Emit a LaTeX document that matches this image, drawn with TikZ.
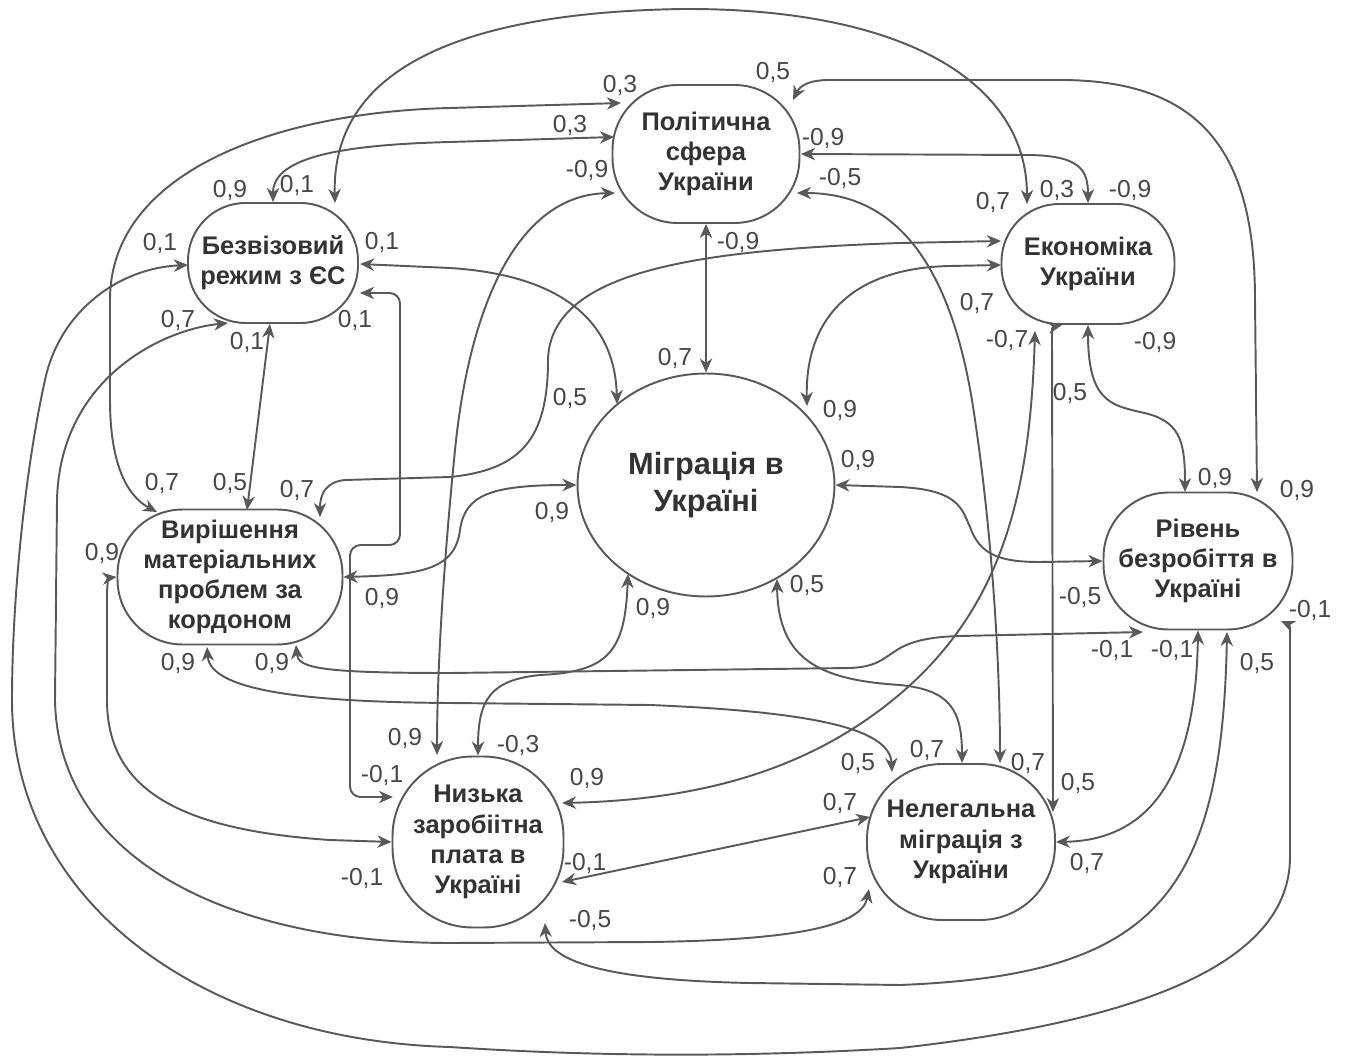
\documentclass[tikz,border=0pt]{standalone}
\usepackage{fontspec}
\setmainfont{Liberation Sans}
\usepackage{xcolor}
\usepackage{tikz}
\usetikzlibrary{shapes.geometric,arrows.meta}

\definecolor{edgegray}{HTML}{595959}
\definecolor{txtgray}{HTML}{333333}
\definecolor{lblgray}{HTML}{474747}

\begin{document}
\begin{tikzpicture}[x=0.02cm, y=-0.02cm,
    factor/.style={rectangle, draw=edgegray, line width=1.1pt, fill=white, align=center, text=txtgray, font=\bfseries\fontsize{14.5}{17.2}\selectfont, inner sep=1pt},
    core/.style={ellipse, draw=edgegray, line width=1.1pt, fill=white, align=center, text=txtgray, font=\bfseries\fontsize{17.5}{21}\selectfont, minimum width=5.14cm, minimum height=4.46cm},
    wt/.style={font=\fontsize{14}{16}\selectfont, text=lblgray, inner sep=0pt},
    link/.style={draw=edgegray, line width=1.1pt, {Stealth[length=8pt,width=7pt,inset=2.5pt]}-{Stealth[length=8pt,width=7pt,inset=2.5pt]}}]

    \fill[white] (0,0) rectangle (1349,1060);
    \useasboundingbox (0,0) rectangle (1349,1060);

    % factors
    \node[factor, minimum width=3.4cm, minimum height=2.4cm, rounded corners=1.15cm] (B) at (273,263) {Безвізовий\\режим з ЄС};
    \node[factor, minimum width=3.74cm, minimum height=2.76cm, rounded corners=1.3cm] (P) at (706,154) {Політична\\сфера\\України};
    \node[factor, minimum width=3.46cm, minimum height=2.4cm, rounded corners=1.15cm] (E) at (1088,264) {Економіка\\України};
    \node[factor, minimum width=4.5cm, minimum height=2.7cm, rounded corners=1.3cm] (V) at (230,577) {Вирішення\\матеріальних\\проблем за\\кордоном};
    \node[core] (M) at (706,485) {Міграція в\\Україні};
    \node[factor, minimum width=3.78cm, minimum height=2.74cm, rounded corners=1.3cm] (R) at (1198,561) {Рівень\\безробіття в\\Україні};
    \node[factor, minimum width=3.42cm, minimum height=3.42cm, rounded corners=1.6cm] (N) at (478,842) {Низька\\заробіітна\\плата в\\Україні};
    \node[factor, minimum width=3.76cm, minimum height=3.12cm, rounded corners=1.5cm] (L) at (961,842) {Нелегальна\\міграція з\\України};

    % links
    \draw[link] ([shift={(62,-60)}]B.center) .. controls (331,60) and (480,12) .. (683,9) .. controls (900,8) and (1027,80) .. ([shift={(-61,-60)}]E.center);
    \draw[link] ([shift={(87,-54)}]P.center) .. controls (800,86) and (808,80) .. (830,80) -- (1060,80) .. controls (1200,80) and (1255,150) .. (1255,300) -- ([shift={(59,-69)}]R.center);
    \draw[link] ([shift={(-73,-65)}]V.center) .. controls (125,495) and (110,460) .. (110,400) -- (110,300) .. controls (110,170) and (280,112) .. (450,108) -- ([shift={(-85,-51)}]P.center);
    \draw[link] (B.north) .. controls (273,160) and (330,145) .. (450,142) -- ([shift={(-92,-17)}]P.center);
    \draw[link] ([shift={(-91,39)}]P.center) .. controls (520,195) and (470,300) .. (455,450) .. controls (442,580) and (437,680) .. ([shift={(-41,-87)}]N.center);
    \draw[link] ([shift={(95,0)}]P.center) -- (1030,155) .. controls (1080,156) and (1088,170) .. (E.north);
    \draw[link] ([shift={(91,39)}]P.center) .. controls (880,193) and (950,240) .. (975,420) .. controls (990,520) and (1000,650) .. ([shift={(39,-79)}]L.center);
    \draw[link] (P.south) -- (M.north);
    \draw[link] ([shift={(-87,-23)}]E.center) -- (900,243) .. controls (700,250) and (550,270) .. (548,360) .. controls (548,440) and (520,470) .. (450,477) -- (345,480) .. controls (325,482) and (320,495) .. ([shift={(90,-60)}]V.center);
    \draw[link] ([shift={(101,-79)}]M.center) .. controls (805,320) and (850,268) .. (950,266) -- ([shift={(-87,1)}]E.center);
    \draw[link] ([shift={(87,1)}]B.center) -- (450,268) .. controls (560,275) and (615,320) .. ([shift={(-89,-81)}]M.center);
    \draw[link] ([shift={(-3,61)}]B.center) -- ([shift={(17,-67)}]V.center);
    \draw[link, rounded corners=6] ([shift={(87,30)}]B.center) -- (400,293) -- (400,545) -- (350,545) -- (350,797) -- ([shift={(-85,-45)}]N.center);
    \draw[link] ([shift={(-85,2)}]B.center) .. controls (120,268) and (60,310) .. (45,380) .. controls (25,470) and (12,600) .. (12,700) .. controls (12,900) and (200,1040) .. (450,1047) .. controls (600,1057) and (750,1057) .. (900,1048) .. controls (1150,1020) and (1290,960) .. (1290,857) -- (1290,640) .. controls (1290,625) .. ([shift={(83,60)}]R.center);
    \draw[link] ([shift={(-45,60)}]B.center) .. controls (160,330) and (60,380) .. (57,500) -- (55,700) .. controls (58,860) and (230,943) .. (450,943) -- (650,942) .. controls (800,940) and (862,925) .. ([shift={(-92,47)}]L.center);
    \draw[link] (V.west) .. controls (108,578) .. (107,592) -- (107,700) .. controls (107,790) and (180,830) .. (330,840) -- (N.west);
    \draw[link] (V.east) .. controls (420,575) and (455,570) .. (460,530) .. controls (465,495) and (490,485) .. (M.west);
    \draw[link] ([shift={(-23,70)}]V.center) .. controls (210,690) and (300,702) .. (450,703) -- (650,705) .. controls (820,712) and (890,730) .. ([shift={(-69,-70)}]L.center);
    \draw[link] ([shift={(66,68)}]V.center) .. controls (298,668) and (320,673) .. (450,673) -- (850,668) .. controls (900,666) and (880,638) .. (960,636) -- ([shift={(-55,71)}]R.center);
    \draw[link] (M.east) -- (900,487) .. controls (960,490) and (962,510) .. (970,527) .. controls (980,555) and (1000,562) .. (1040,562) -- (R.west);
    \draw[link] ([shift={(-78,89)}]M.center) .. controls (625,650) and (610,672) .. (540,675) .. controls (490,680) and (478,700) .. (N.north);
    \draw[link] ([shift={(71,94)}]M.center) .. controls (778,660) and (820,680) .. (900,685) .. controls (950,690) and (962,710) .. ([shift={(1,-79)}]L.center);
    \draw[link] ([shift={(-53,67)}]E.center) .. controls (1030,500) and (1000,620) .. (880,710) .. controls (800,770) and (700,800) .. ([shift={(84,-39)}]N.center);
    \draw[link] ([shift={(92,-30)}]L.center) -- (1052,340) .. controls (1052,327) .. ([shift={(-26,61)}]E.center);
    \draw[link] (E.south) .. controls (1088,400) and (1110,405) .. (1140,412) .. controls (1180,420) and (1185,440) .. ([shift={(-13,-69)}]R.center);
    \draw[link] (R.south) .. controls (1196,760) and (1160,840) .. (L.east);
    \draw[link] ([shift={(29,71)}]R.center) .. controls (1222,900) and (1150,975) .. (900,985) -- (750,983) .. controls (600,980) and (547,960) .. ([shift={(67,81)}]N.center);
    \draw[link] ([shift={(84,40)}]N.center) -- ([shift={(-91,-25)}]L.center);

    % weights
    \node[wt] (b1) at (230,190) {0,9}; \node[wt] (b2) at (297,185) {0,1}; \node[wt] (b3) at (160,243) {0,1}; \node[wt] (b4) at (382,242) {0,1};
    \node[wt] (b5) at (178,320) {0,7}; \node[wt] (b6) at (247,342) {0,1}; \node[wt] (b7) at (355,320) {0,1};
    \node[wt] (p1) at (620,85) {0,3}; \node[wt] (p2) at (570,125) {0,3}; \node[wt] (p3) at (587,170) {-0,9}; \node[wt] (p4) at (773,72) {0,5};
    \node[wt] (p5) at (823,138) {-0,9}; \node[wt] (p6) at (840,178) {-0,5}; \node[wt] (p7) at (738,242) {-0,9};
    \node[wt] (e1) at (993,202) {0,7}; \node[wt] (e2) at (1057,190) {0,3}; \node[wt] (e3) at (1130,190) {-0,9}; \node[wt] (e4) at (977,303) {0,7};
    \node[wt] (e5) at (1007,340) {-0,7}; \node[wt] (e6) at (1155,342) {-0,9}; \node[wt] (e7) at (1070,393) {0,5};
    \node[wt] (v1) at (162,483) {0,7}; \node[wt] (v2) at (230,483) {0,5}; \node[wt] (v3) at (297,490) {0,7}; \node[wt] (v4) at (102,553) {0,9};
    \node[wt] (v5) at (382,598) {0,9}; \node[wt] (v6) at (178,663) {0,9}; \node[wt] (v7) at (272,663) {0,9};
    \node[wt] (m1) at (675,358) {0,7}; \node[wt] (m2) at (570,398) {0,5}; \node[wt] (m3) at (840,410) {0,9}; \node[wt] (m4) at (858,460) {0,9};
    \node[wt] (m5) at (552,512) {0,9}; \node[wt] (m6) at (653,608) {0,9}; \node[wt] (m7) at (807,585) {0,5};
    \node[wt] (r1) at (1215,478) {0,9}; \node[wt] (r2) at (1297,490) {0,9}; \node[wt] (r3) at (1080,597) {-0,5}; \node[wt] (r4) at (1112,650) {-0,1};
    \node[wt] (r5) at (1172,650) {-0,1}; \node[wt] (r6) at (1257,663) {0,5}; \node[wt] (r7) at (1310,610) {-0,1};
    \node[wt] (n1) at (405,738) {0,9}; \node[wt] (n2) at (518,745) {-0,3}; \node[wt] (n3) at (382,775) {-0,1}; \node[wt] (n4) at (362,878) {-0,1};
    \node[wt] (n5) at (587,778) {0,9}; \node[wt] (n6) at (585,863) {-0,1}; \node[wt] (n7) at (590,920) {-0,5};
    \node[wt] (l1) at (858,763) {0,5}; \node[wt] (l2) at (927,750) {0,7}; \node[wt] (l3) at (1028,763) {0,7}; \node[wt] (l4) at (1078,783) {0,5};
    \node[wt] (l5) at (1087,863) {0,7}; \node[wt] (l6) at (840,803) {0,7}; \node[wt] (l7) at (840,877) {0,7};
\end{tikzpicture}
\end{document}
